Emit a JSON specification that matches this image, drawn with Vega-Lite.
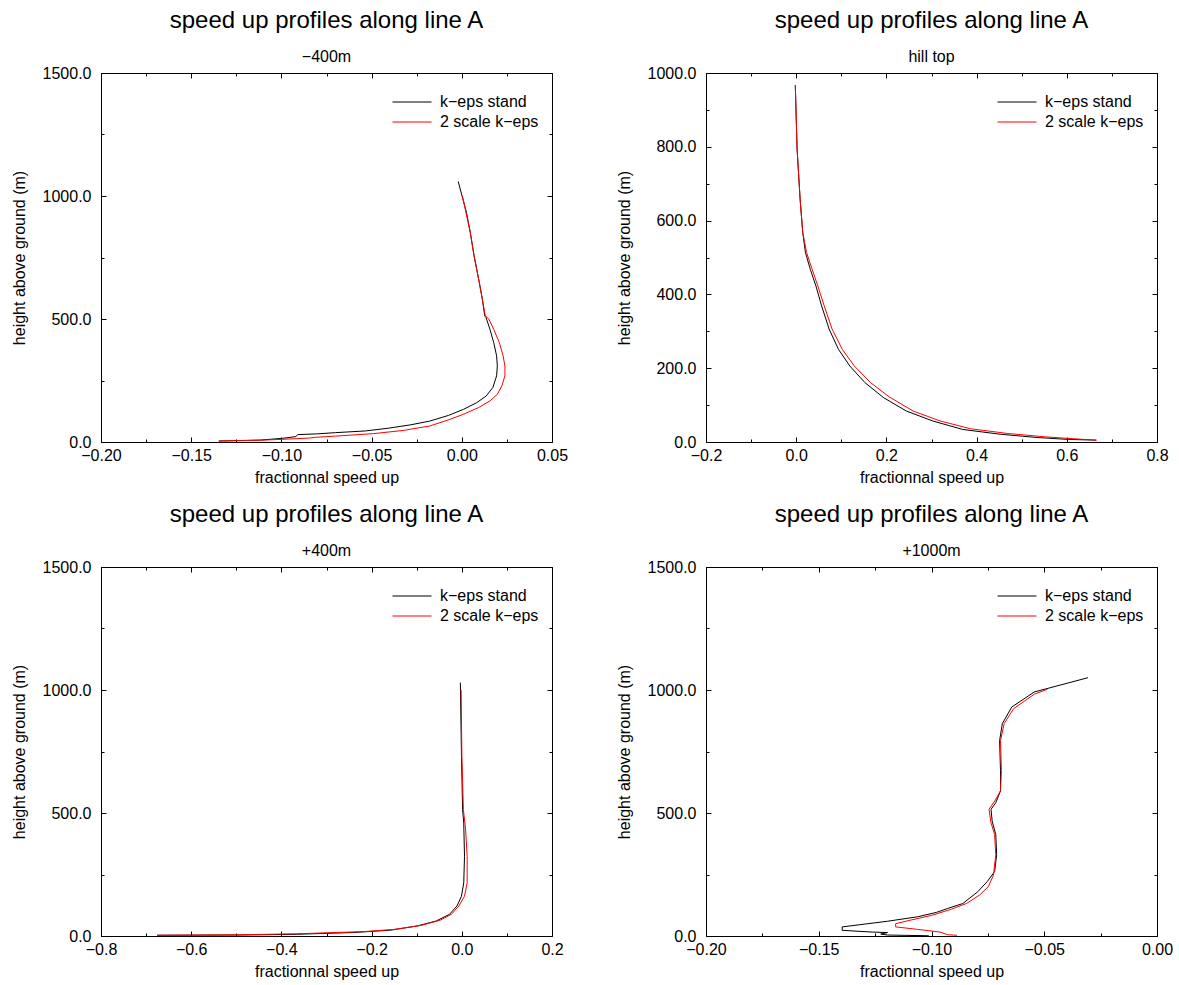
{
  "$schema": "https://vega.github.io/schema/vega-lite/v6.json",
  "padding": {"left": 10, "top": 8, "right": 5, "bottom": 5},
  "background": "white",
  "config": {
    "font": "Liberation Sans",
    "view": {"stroke": "#000", "strokeWidth": 1},
    "axis": {"domain": false, "grid": false, "tickColor": "#000", "tickWidth": 1, "labelFont": "Liberation Sans", "labelFontSize": 16, "labelColor": "#000", "titleFont": "Liberation Sans", "titleFontSize": 16, "titleFontWeight": "normal", "titleColor": "#000", "labelOverlap": false, "labelFlush": false, "labelBound": false},
    "axisX": {"labelPadding": 10, "titlePadding": 4},
    "axisY": {"labelPadding": 15, "titlePadding": 15},
    "title": {"font": "Liberation Sans", "fontSize": 24, "fontWeight": "normal", "color": "#000", "subtitleFont": "Liberation Sans", "subtitleFontSize": 16, "subtitleColor": "#000", "subtitlePadding": 16, "offset": 0.5, "anchor": "middle", "frame": "group"},
    "legend": {"title": null, "symbolType": "stroke", "symbolStrokeWidth": 1, "symbolSize": 1521, "labelFont": "Liberation Sans", "labelFontSize": 16, "labelColor": "#000", "labelOffset": 8, "clipHeight": 20, "rowPadding": 0, "orient": "none", "legendX": 291, "legendY": 19}
  },
  "datasets": {
    "p1": [
      {"m": "k−eps stand", "i": 0, "x": -0.002, "y": 1059},
      {"m": "k−eps stand", "i": 1, "x": 0.0026, "y": 933},
      {"m": "k−eps stand", "i": 2, "x": 0.0047, "y": 852},
      {"m": "k−eps stand", "i": 3, "x": 0.0068, "y": 757},
      {"m": "k−eps stand", "i": 4, "x": 0.0097, "y": 648},
      {"m": "k−eps stand", "i": 5, "x": 0.0114, "y": 580},
      {"m": "k−eps stand", "i": 6, "x": 0.0127, "y": 513},
      {"m": "k−eps stand", "i": 7, "x": 0.0135, "y": 505},
      {"m": "k−eps stand", "i": 8, "x": 0.0156, "y": 458},
      {"m": "k−eps stand", "i": 9, "x": 0.0177, "y": 404},
      {"m": "k−eps stand", "i": 10, "x": 0.0193, "y": 350},
      {"m": "k−eps stand", "i": 11, "x": 0.0197, "y": 309},
      {"m": "k−eps stand", "i": 12, "x": 0.0193, "y": 269},
      {"m": "k−eps stand", "i": 13, "x": 0.0172, "y": 221},
      {"m": "k−eps stand", "i": 14, "x": 0.0135, "y": 187},
      {"m": "k−eps stand", "i": 15, "x": 0.0083, "y": 160},
      {"m": "k−eps stand", "i": 16, "x": 0.001, "y": 133},
      {"m": "k−eps stand", "i": 17, "x": -0.0074, "y": 108},
      {"m": "k−eps stand", "i": 18, "x": -0.0178, "y": 85},
      {"m": "k−eps stand", "i": 19, "x": -0.0282, "y": 70},
      {"m": "k−eps stand", "i": 20, "x": -0.0408, "y": 56},
      {"m": "k−eps stand", "i": 21, "x": -0.0533, "y": 45},
      {"m": "k−eps stand", "i": 22, "x": -0.07, "y": 38},
      {"m": "k−eps stand", "i": 23, "x": -0.0804, "y": 33},
      {"m": "k−eps stand", "i": 24, "x": -0.0909, "y": 30},
      {"m": "k−eps stand", "i": 25, "x": -0.092, "y": 22},
      {"m": "k−eps stand", "i": 26, "x": -0.0992, "y": 15},
      {"m": "k−eps stand", "i": 27, "x": -0.1117, "y": 8},
      {"m": "k−eps stand", "i": 28, "x": -0.1347, "y": 4},
      {"m": "2 scale k−eps", "i": 0, "x": 0.0003, "y": 1001},
      {"m": "2 scale k−eps", "i": 1, "x": 0.0047, "y": 852},
      {"m": "2 scale k−eps", "i": 2, "x": 0.0068, "y": 757},
      {"m": "2 scale k−eps", "i": 3, "x": 0.0097, "y": 648},
      {"m": "2 scale k−eps", "i": 4, "x": 0.0114, "y": 580},
      {"m": "2 scale k−eps", "i": 5, "x": 0.013, "y": 513},
      {"m": "2 scale k−eps", "i": 6, "x": 0.015, "y": 500},
      {"m": "2 scale k−eps", "i": 7, "x": 0.0177, "y": 458},
      {"m": "2 scale k−eps", "i": 8, "x": 0.0208, "y": 404},
      {"m": "2 scale k−eps", "i": 9, "x": 0.0229, "y": 350},
      {"m": "2 scale k−eps", "i": 10, "x": 0.0239, "y": 309},
      {"m": "2 scale k−eps", "i": 11, "x": 0.0239, "y": 269},
      {"m": "2 scale k−eps", "i": 12, "x": 0.0222, "y": 228},
      {"m": "2 scale k−eps", "i": 13, "x": 0.0197, "y": 194},
      {"m": "2 scale k−eps", "i": 14, "x": 0.0156, "y": 167},
      {"m": "2 scale k−eps", "i": 15, "x": 0.0093, "y": 140},
      {"m": "2 scale k−eps", "i": 16, "x": 0.001, "y": 113},
      {"m": "2 scale k−eps", "i": 17, "x": -0.0074, "y": 90},
      {"m": "2 scale k−eps", "i": 18, "x": -0.0178, "y": 65},
      {"m": "2 scale k−eps", "i": 19, "x": -0.0324, "y": 47},
      {"m": "2 scale k−eps", "i": 20, "x": -0.049, "y": 34},
      {"m": "2 scale k−eps", "i": 21, "x": -0.07, "y": 24},
      {"m": "2 scale k−eps", "i": 22, "x": -0.0815, "y": 19},
      {"m": "2 scale k−eps", "i": 23, "x": -0.0846, "y": 16},
      {"m": "2 scale k−eps", "i": 24, "x": -0.0992, "y": 11},
      {"m": "2 scale k−eps", "i": 25, "x": -0.1117, "y": 7},
      {"m": "2 scale k−eps", "i": 26, "x": -0.1347, "y": 4}
    ],
    "p2": [
      {"m": "k−eps stand", "i": 0, "x": -0.002, "y": 967},
      {"m": "k−eps stand", "i": 1, "x": 0.002, "y": 794},
      {"m": "k−eps stand", "i": 2, "x": 0.0087, "y": 658},
      {"m": "k−eps stand", "i": 3, "x": 0.0145, "y": 568},
      {"m": "k−eps stand", "i": 4, "x": 0.0204, "y": 514},
      {"m": "k−eps stand", "i": 5, "x": 0.0312, "y": 468},
      {"m": "k−eps stand", "i": 6, "x": 0.0437, "y": 423},
      {"m": "k−eps stand", "i": 7, "x": 0.0563, "y": 369},
      {"m": "k−eps stand", "i": 8, "x": 0.073, "y": 306},
      {"m": "k−eps stand", "i": 9, "x": 0.0938, "y": 251},
      {"m": "k−eps stand", "i": 10, "x": 0.1189, "y": 206},
      {"m": "k−eps stand", "i": 11, "x": 0.1523, "y": 161},
      {"m": "k−eps stand", "i": 12, "x": 0.194, "y": 120},
      {"m": "k−eps stand", "i": 13, "x": 0.2441, "y": 84},
      {"m": "k−eps stand", "i": 14, "x": 0.3025, "y": 57},
      {"m": "k−eps stand", "i": 15, "x": 0.3693, "y": 34},
      {"m": "k−eps stand", "i": 16, "x": 0.4528, "y": 21},
      {"m": "k−eps stand", "i": 17, "x": 0.5362, "y": 12},
      {"m": "k−eps stand", "i": 18, "x": 0.603, "y": 7},
      {"m": "k−eps stand", "i": 19, "x": 0.6656, "y": 5},
      {"m": "2 scale k−eps", "i": 0, "x": -0.002, "y": 967},
      {"m": "2 scale k−eps", "i": 1, "x": 0.002, "y": 794},
      {"m": "2 scale k−eps", "i": 2, "x": 0.0087, "y": 658},
      {"m": "2 scale k−eps", "i": 3, "x": 0.0145, "y": 568},
      {"m": "2 scale k−eps", "i": 4, "x": 0.0229, "y": 514},
      {"m": "2 scale k−eps", "i": 5, "x": 0.0354, "y": 468},
      {"m": "2 scale k−eps", "i": 6, "x": 0.0479, "y": 423},
      {"m": "2 scale k−eps", "i": 7, "x": 0.0621, "y": 369},
      {"m": "2 scale k−eps", "i": 8, "x": 0.0796, "y": 306},
      {"m": "2 scale k−eps", "i": 9, "x": 0.1022, "y": 251},
      {"m": "2 scale k−eps", "i": 10, "x": 0.1289, "y": 206},
      {"m": "2 scale k−eps", "i": 11, "x": 0.1648, "y": 161},
      {"m": "2 scale k−eps", "i": 12, "x": 0.2065, "y": 122},
      {"m": "2 scale k−eps", "i": 13, "x": 0.2591, "y": 84},
      {"m": "2 scale k−eps", "i": 14, "x": 0.3192, "y": 57},
      {"m": "2 scale k−eps", "i": 15, "x": 0.386, "y": 36},
      {"m": "2 scale k−eps", "i": 16, "x": 0.4694, "y": 23},
      {"m": "2 scale k−eps", "i": 17, "x": 0.5529, "y": 14},
      {"m": "2 scale k−eps", "i": 18, "x": 0.6114, "y": 9},
      {"m": "2 scale k−eps", "i": 19, "x": 0.6656, "y": 5}
    ],
    "p3": [
      {"m": "k−eps stand", "i": 0, "x": -0.0032, "y": 1030},
      {"m": "k−eps stand", "i": 1, "x": -0.0007, "y": 730},
      {"m": "k−eps stand", "i": 2, "x": 0.0018, "y": 514},
      {"m": "k−eps stand", "i": 3, "x": 0.0043, "y": 459},
      {"m": "k−eps stand", "i": 4, "x": 0.006, "y": 324},
      {"m": "k−eps stand", "i": 5, "x": 0.0043, "y": 216},
      {"m": "k−eps stand", "i": 6, "x": -0.0007, "y": 162},
      {"m": "k−eps stand", "i": 7, "x": -0.0107, "y": 122},
      {"m": "k−eps stand", "i": 8, "x": -0.0274, "y": 88},
      {"m": "k−eps stand", "i": 9, "x": -0.0567, "y": 61},
      {"m": "k−eps stand", "i": 10, "x": -0.0985, "y": 41},
      {"m": "k−eps stand", "i": 11, "x": -0.157, "y": 24},
      {"m": "k−eps stand", "i": 12, "x": -0.2406, "y": 14},
      {"m": "k−eps stand", "i": 13, "x": -0.366, "y": 7},
      {"m": "k−eps stand", "i": 14, "x": -0.4915, "y": 4},
      {"m": "k−eps stand", "i": 15, "x": -0.6754, "y": 3},
      {"m": "2 scale k−eps", "i": 0, "x": -0.0015, "y": 1000},
      {"m": "2 scale k−eps", "i": 1, "x": 0.0002, "y": 730},
      {"m": "2 scale k−eps", "i": 2, "x": 0.0035, "y": 514},
      {"m": "2 scale k−eps", "i": 3, "x": 0.0085, "y": 432},
      {"m": "2 scale k−eps", "i": 4, "x": 0.0119, "y": 324},
      {"m": "2 scale k−eps", "i": 5, "x": 0.0119, "y": 216},
      {"m": "2 scale k−eps", "i": 6, "x": 0.006, "y": 162},
      {"m": "2 scale k−eps", "i": 7, "x": -0.0065, "y": 122},
      {"m": "2 scale k−eps", "i": 8, "x": -0.0232, "y": 88},
      {"m": "2 scale k−eps", "i": 9, "x": -0.0483, "y": 64},
      {"m": "2 scale k−eps", "i": 10, "x": -0.0901, "y": 43},
      {"m": "2 scale k−eps", "i": 11, "x": -0.1487, "y": 27},
      {"m": "2 scale k−eps", "i": 12, "x": -0.2155, "y": 18},
      {"m": "2 scale k−eps", "i": 13, "x": -0.366, "y": 9},
      {"m": "2 scale k−eps", "i": 14, "x": -0.4915, "y": 5},
      {"m": "2 scale k−eps", "i": 15, "x": -0.6754, "y": 3}
    ],
    "p4": [
      {"m": "k−eps stand", "i": 0, "x": -0.0306, "y": 1050},
      {"m": "k−eps stand", "i": 1, "x": -0.0544, "y": 992},
      {"m": "k−eps stand", "i": 2, "x": -0.0644, "y": 931},
      {"m": "k−eps stand", "i": 3, "x": -0.0686, "y": 863},
      {"m": "k−eps stand", "i": 4, "x": -0.0698, "y": 794},
      {"m": "k−eps stand", "i": 5, "x": -0.0694, "y": 672},
      {"m": "k−eps stand", "i": 6, "x": -0.0694, "y": 590},
      {"m": "k−eps stand", "i": 7, "x": -0.0715, "y": 542},
      {"m": "k−eps stand", "i": 8, "x": -0.0736, "y": 515},
      {"m": "k−eps stand", "i": 9, "x": -0.0731, "y": 467},
      {"m": "k−eps stand", "i": 10, "x": -0.0715, "y": 412},
      {"m": "k−eps stand", "i": 11, "x": -0.0711, "y": 330},
      {"m": "k−eps stand", "i": 12, "x": -0.072, "y": 262},
      {"m": "k−eps stand", "i": 13, "x": -0.0753, "y": 221},
      {"m": "k−eps stand", "i": 14, "x": -0.0795, "y": 180},
      {"m": "k−eps stand", "i": 15, "x": -0.0861, "y": 132},
      {"m": "k−eps stand", "i": 16, "x": -0.0928, "y": 112},
      {"m": "k−eps stand", "i": 17, "x": -0.0978, "y": 96},
      {"m": "k−eps stand", "i": 18, "x": -0.1062, "y": 78},
      {"m": "k−eps stand", "i": 19, "x": -0.1195, "y": 60},
      {"m": "k−eps stand", "i": 20, "x": -0.1396, "y": 37},
      {"m": "k−eps stand", "i": 21, "x": -0.1396, "y": 23},
      {"m": "k−eps stand", "i": 22, "x": -0.1262, "y": 16},
      {"m": "k−eps stand", "i": 23, "x": -0.1195, "y": 14},
      {"m": "k−eps stand", "i": 24, "x": -0.1225, "y": 8},
      {"m": "k−eps stand", "i": 25, "x": -0.1195, "y": 4},
      {"m": "k−eps stand", "i": 26, "x": -0.1012, "y": 1},
      {"m": "2 scale k−eps", "i": 0, "x": -0.0486, "y": 1003},
      {"m": "2 scale k−eps", "i": 1, "x": -0.0544, "y": 983},
      {"m": "2 scale k−eps", "i": 2, "x": -0.0636, "y": 924},
      {"m": "2 scale k−eps", "i": 3, "x": -0.0678, "y": 863},
      {"m": "2 scale k−eps", "i": 4, "x": -0.0694, "y": 794},
      {"m": "2 scale k−eps", "i": 5, "x": -0.069, "y": 672},
      {"m": "2 scale k−eps", "i": 6, "x": -0.0694, "y": 590},
      {"m": "2 scale k−eps", "i": 7, "x": -0.0719, "y": 549},
      {"m": "2 scale k−eps", "i": 8, "x": -0.0745, "y": 515},
      {"m": "2 scale k−eps", "i": 9, "x": -0.0736, "y": 460},
      {"m": "2 scale k−eps", "i": 10, "x": -0.072, "y": 412},
      {"m": "2 scale k−eps", "i": 11, "x": -0.0715, "y": 330},
      {"m": "2 scale k−eps", "i": 12, "x": -0.0725, "y": 248},
      {"m": "2 scale k−eps", "i": 13, "x": -0.0748, "y": 201},
      {"m": "2 scale k−eps", "i": 14, "x": -0.0786, "y": 167},
      {"m": "2 scale k−eps", "i": 15, "x": -0.0845, "y": 132},
      {"m": "2 scale k−eps", "i": 16, "x": -0.0912, "y": 109},
      {"m": "2 scale k−eps", "i": 17, "x": -0.0995, "y": 85},
      {"m": "2 scale k−eps", "i": 18, "x": -0.1095, "y": 64},
      {"m": "2 scale k−eps", "i": 19, "x": -0.1159, "y": 50},
      {"m": "2 scale k−eps", "i": 20, "x": -0.1159, "y": 37},
      {"m": "2 scale k−eps", "i": 21, "x": -0.1062, "y": 27},
      {"m": "2 scale k−eps", "i": 22, "x": -0.0962, "y": 16},
      {"m": "2 scale k−eps", "i": 23, "x": -0.0928, "y": 5},
      {"m": "2 scale k−eps", "i": 24, "x": -0.0887, "y": 3}
    ]
  },
  "columns": 2,
  "bounds": "flush",
  "spacing": {"row": 125, "column": 154},
  "resolve": {"scale": {"color": "independent"}, "legend": {"color": "independent"}},
  "concat": [
    {
      "title": {"text": "speed up profiles along line A", "subtitle": "−400m"},
      "width": 451, "height": 369,
      "data": {"name": "p1"},
      "resolve": {"axis": {"x": "independent", "y": "independent"}},
      "layer": [
        {
          "mark": {"type": "line", "strokeWidth": 1, "clip": true},
          "encoding": {
            "x": {"field": "x", "type": "quantitative", "scale": {"domain": [-0.2, 0.05], "nice": false, "zero": false},
              "axis": {"orient": "bottom", "title": "fractionnal speed up", "format": ".2f", "values": [-0.2, -0.175, -0.15, -0.125, -0.1, -0.075, -0.05, -0.025, 0, 0.025, 0.05],
                "labelExpr": "abs(datum.value*20 - round(datum.value*20)) < 0.000001 ? datum.label : ''",
                "tickSize": {"condition": {"test": "abs(datum.value*20 - round(datum.value*20)) < 0.000001", "value": -5}, "value": -3}}},
            "y": {"field": "y", "type": "quantitative", "scale": {"domain": [0, 1500], "nice": false},
              "axis": {"orient": "left", "title": "height above ground (m)", "format": ".1f", "values": [0, 250, 500, 750, 1000, 1250, 1500],
                "labelExpr": "datum.value % 500 == 0 ? datum.label : ''",
                "tickSize": {"condition": {"test": "datum.value % 500 == 0", "value": -5}, "value": -3}}},
            "color": {"field": "m", "type": "nominal", "scale": {"domain": ["k−eps stand", "2 scale k−eps"], "range": ["#000000", "#ff0000"]}},
            "order": {"field": "i", "type": "quantitative"}
          }
        },
        {
          "mark": {"type": "line", "opacity": 0},
          "encoding": {
            "x": {"field": "x", "type": "quantitative", "scale": {"domain": [-0.2, 0.05], "nice": false, "zero": false},
              "axis": {"orient": "top", "title": null, "labels": false, "values": [-0.2, -0.175, -0.15, -0.125, -0.1, -0.075, -0.05, -0.025, 0, 0.025, 0.05],
                "tickSize": {"condition": {"test": "abs(datum.value*20 - round(datum.value*20)) < 0.000001", "value": -5}, "value": -3}}},
            "y": {"field": "y", "type": "quantitative", "scale": {"domain": [0, 1500], "nice": false},
              "axis": {"orient": "right", "title": null, "labels": false, "values": [0, 250, 500, 750, 1000, 1250, 1500],
                "tickSize": {"condition": {"test": "datum.value % 500 == 0", "value": -5}, "value": -3}}}
          }
        }
      ]
    },
    {
      "title": {"text": "speed up profiles along line A", "subtitle": "hill top"},
      "width": 451, "height": 369,
      "data": {"name": "p2"},
      "resolve": {"axis": {"x": "independent", "y": "independent"}},
      "layer": [
        {
          "mark": {"type": "line", "strokeWidth": 1, "clip": true},
          "encoding": {
            "x": {"field": "x", "type": "quantitative", "scale": {"domain": [-0.2, 0.8], "nice": false, "zero": false},
              "axis": {"orient": "bottom", "title": "fractionnal speed up", "format": ".1f", "values": [-0.2, -0.1, 0, 0.1, 0.2, 0.3, 0.4, 0.5, 0.6, 0.7, 0.8],
                "labelExpr": "abs(datum.value*5 - round(datum.value*5)) < 0.000001 ? datum.label : ''",
                "tickSize": {"condition": {"test": "abs(datum.value*5 - round(datum.value*5)) < 0.000001", "value": -5}, "value": -3}}},
            "y": {"field": "y", "type": "quantitative", "scale": {"domain": [0, 1000], "nice": false},
              "axis": {"orient": "left", "title": "height above ground (m)", "format": ".1f", "values": [0, 100, 200, 300, 400, 500, 600, 700, 800, 900, 1000],
                "labelExpr": "datum.value % 200 == 0 ? datum.label : ''",
                "tickSize": {"condition": {"test": "datum.value % 200 == 0", "value": -5}, "value": -3}}},
            "color": {"field": "m", "type": "nominal", "scale": {"domain": ["k−eps stand", "2 scale k−eps"], "range": ["#000000", "#ff0000"]}},
            "order": {"field": "i", "type": "quantitative"}
          }
        },
        {
          "mark": {"type": "line", "opacity": 0},
          "encoding": {
            "x": {"field": "x", "type": "quantitative", "scale": {"domain": [-0.2, 0.8], "nice": false, "zero": false},
              "axis": {"orient": "top", "title": null, "labels": false, "values": [-0.2, -0.1, 0, 0.1, 0.2, 0.3, 0.4, 0.5, 0.6, 0.7, 0.8],
                "tickSize": {"condition": {"test": "abs(datum.value*5 - round(datum.value*5)) < 0.000001", "value": -5}, "value": -3}}},
            "y": {"field": "y", "type": "quantitative", "scale": {"domain": [0, 1000], "nice": false},
              "axis": {"orient": "right", "title": null, "labels": false, "values": [0, 100, 200, 300, 400, 500, 600, 700, 800, 900, 1000],
                "tickSize": {"condition": {"test": "datum.value % 200 == 0", "value": -5}, "value": -3}}}
          }
        }
      ]
    },
    {
      "title": {"text": "speed up profiles along line A", "subtitle": "+400m"},
      "width": 451, "height": 369,
      "data": {"name": "p3"},
      "resolve": {"axis": {"x": "independent", "y": "independent"}},
      "layer": [
        {
          "mark": {"type": "line", "strokeWidth": 1, "clip": true},
          "encoding": {
            "x": {"field": "x", "type": "quantitative", "scale": {"domain": [-0.8, 0.2], "nice": false, "zero": false},
              "axis": {"orient": "bottom", "title": "fractionnal speed up", "format": ".1f", "values": [-0.8, -0.7, -0.6, -0.5, -0.4, -0.3, -0.2, -0.1, 0, 0.1, 0.2],
                "labelExpr": "abs(datum.value*5 - round(datum.value*5)) < 0.000001 ? datum.label : ''",
                "tickSize": {"condition": {"test": "abs(datum.value*5 - round(datum.value*5)) < 0.000001", "value": -5}, "value": -3}}},
            "y": {"field": "y", "type": "quantitative", "scale": {"domain": [0, 1500], "nice": false},
              "axis": {"orient": "left", "title": "height above ground (m)", "format": ".1f", "values": [0, 250, 500, 750, 1000, 1250, 1500],
                "labelExpr": "datum.value % 500 == 0 ? datum.label : ''",
                "tickSize": {"condition": {"test": "datum.value % 500 == 0", "value": -5}, "value": -3}}},
            "color": {"field": "m", "type": "nominal", "scale": {"domain": ["k−eps stand", "2 scale k−eps"], "range": ["#000000", "#ff0000"]}},
            "order": {"field": "i", "type": "quantitative"}
          }
        },
        {
          "mark": {"type": "line", "opacity": 0},
          "encoding": {
            "x": {"field": "x", "type": "quantitative", "scale": {"domain": [-0.8, 0.2], "nice": false, "zero": false},
              "axis": {"orient": "top", "title": null, "labels": false, "values": [-0.8, -0.7, -0.6, -0.5, -0.4, -0.3, -0.2, -0.1, 0, 0.1, 0.2],
                "tickSize": {"condition": {"test": "abs(datum.value*5 - round(datum.value*5)) < 0.000001", "value": -5}, "value": -3}}},
            "y": {"field": "y", "type": "quantitative", "scale": {"domain": [0, 1500], "nice": false},
              "axis": {"orient": "right", "title": null, "labels": false, "values": [0, 250, 500, 750, 1000, 1250, 1500],
                "tickSize": {"condition": {"test": "datum.value % 500 == 0", "value": -5}, "value": -3}}}
          }
        }
      ]
    },
    {
      "title": {"text": "speed up profiles along line A", "subtitle": "+1000m"},
      "width": 451, "height": 369,
      "data": {"name": "p4"},
      "resolve": {"axis": {"x": "independent", "y": "independent"}},
      "layer": [
        {
          "mark": {"type": "line", "strokeWidth": 1, "clip": true},
          "encoding": {
            "x": {"field": "x", "type": "quantitative", "scale": {"domain": [-0.2, 0], "nice": false, "zero": false},
              "axis": {"orient": "bottom", "title": "fractionnal speed up", "format": ".2f", "values": [-0.2, -0.175, -0.15, -0.125, -0.1, -0.075, -0.05, -0.025, 0],
                "labelExpr": "abs(datum.value*20 - round(datum.value*20)) < 0.000001 ? datum.label : ''",
                "tickSize": {"condition": {"test": "abs(datum.value*20 - round(datum.value*20)) < 0.000001", "value": -5}, "value": -3}}},
            "y": {"field": "y", "type": "quantitative", "scale": {"domain": [0, 1500], "nice": false},
              "axis": {"orient": "left", "title": "height above ground (m)", "format": ".1f", "values": [0, 250, 500, 750, 1000, 1250, 1500],
                "labelExpr": "datum.value % 500 == 0 ? datum.label : ''",
                "tickSize": {"condition": {"test": "datum.value % 500 == 0", "value": -5}, "value": -3}}},
            "color": {"field": "m", "type": "nominal", "scale": {"domain": ["k−eps stand", "2 scale k−eps"], "range": ["#000000", "#ff0000"]}},
            "order": {"field": "i", "type": "quantitative"}
          }
        },
        {
          "mark": {"type": "line", "opacity": 0},
          "encoding": {
            "x": {"field": "x", "type": "quantitative", "scale": {"domain": [-0.2, 0], "nice": false, "zero": false},
              "axis": {"orient": "top", "title": null, "labels": false, "values": [-0.2, -0.175, -0.15, -0.125, -0.1, -0.075, -0.05, -0.025, 0],
                "tickSize": {"condition": {"test": "abs(datum.value*20 - round(datum.value*20)) < 0.000001", "value": -5}, "value": -3}}},
            "y": {"field": "y", "type": "quantitative", "scale": {"domain": [0, 1500], "nice": false},
              "axis": {"orient": "right", "title": null, "labels": false, "values": [0, 250, 500, 750, 1000, 1250, 1500],
                "tickSize": {"condition": {"test": "datum.value % 500 == 0", "value": -5}, "value": -3}}}
          }
        }
      ]
    }
  ]
}
